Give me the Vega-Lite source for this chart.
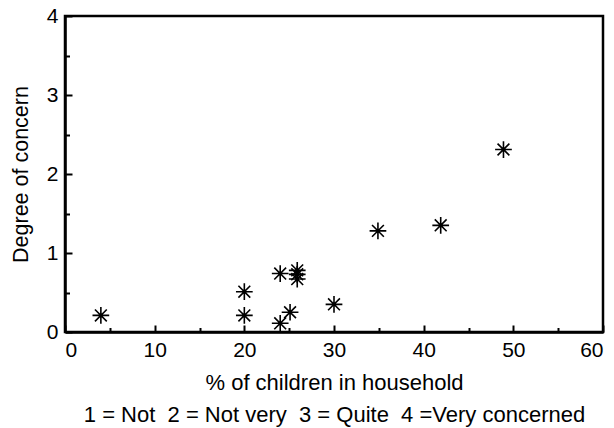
{
  "$schema": "https://vega.github.io/schema/vega-lite/v6.json",
  "autosize": "none",
  "width": 538,
  "height": 316,
  "padding": {"left": 65, "top": 16, "right": 11, "bottom": 96},
  "background": "white",
  "config": {
    "view": {"stroke": "black", "strokeWidth": 2.5},
    "font": "Liberation Sans",
    "axis": {
      "domainColor": "black",
      "domainWidth": 2.5,
      "tickColor": "black",
      "tickWidth": 2,
      "labelColor": "black",
      "titleColor": "black",
      "grid": false
    }
  },
  "data": {
    "values": [
      {"pct": 4.0, "concern": 0.21},
      {"pct": 20.0, "concern": 0.51},
      {"pct": 20.0, "concern": 0.21},
      {"pct": 24.0, "concern": 0.74},
      {"pct": 25.9, "concern": 0.78},
      {"pct": 25.9, "concern": 0.73},
      {"pct": 25.9, "concern": 0.67},
      {"pct": 24.0, "concern": 0.11},
      {"pct": 25.1, "concern": 0.25},
      {"pct": 30.0, "concern": 0.35},
      {"pct": 34.9, "concern": 1.28},
      {"pct": 41.9, "concern": 1.35},
      {"pct": 48.9, "concern": 2.31}
    ]
  },
  "encoding": {
    "x": {
      "field": "pct",
      "type": "quantitative",
      "scale": {"domain": [0, 60], "nice": false, "zero": false},
      "axis": {
        "values": [0, 5, 10, 15, 20, 25, 30, 35, 40, 45, 50, 55, 60],
        "format": "d",
        "labelExpr": "datum.value % 10 === 0 ? datum.label : ''",
        "tickSize": {"condition": {"test": "datum.value % 10 === 0", "value": -7}, "value": -4.5},
        "labelFontSize": 21,
        "labelPadding": 14,
        "labelFont": "Liberation Sans",
        "title": ["% of children in household", "1 = Not \u00a02 = Not very \u00a03 = Quite \u00a04 =Very concerned"],
        "titleFont": "Liberation Sans",
        "titleFontSize": 22,
        "titleFontWeight": "normal",
        "titleLineHeight": 32,
        "titlePadding": 12
      }
    },
    "y": {
      "field": "concern",
      "type": "quantitative",
      "scale": {"domain": [0, 4], "nice": false, "zero": false},
      "axis": {
        "values": [0, 0.5, 1, 1.5, 2, 2.5, 3, 3.5, 4],
        "labelExpr": "datum.value % 1 === 0 ? format(datum.value, 'd') : ''",
        "tickSize": {"condition": {"test": "datum.value % 1 === 0", "value": -7}, "value": -4.5},
        "labelFontSize": 21,
        "labelPadding": 14,
        "labelFont": "Liberation Sans",
        "title": "Degree of concern",
        "titleFont": "Liberation Sans",
        "titleFontSize": 21.5,
        "titleFontWeight": "normal",
        "titlePadding": 14
      }
    }
  },
  "layer": [
    {
      "mark": {
        "type": "point",
        "shape": "M-1,0L1,0M0,-1L0,1M-0.7071,-0.7071L0.7071,0.7071M-0.7071,0.7071L0.7071,-0.7071",
        "filled": false,
        "stroke": "black",
        "strokeWidth": 1.6,
        "size": 280,
        "opacity": 1
      }
    },
    {
      "mark": {"type": "point", "shape": "circle", "filled": true, "color": "black", "size": 12, "opacity": 1}
    }
  ]
}
